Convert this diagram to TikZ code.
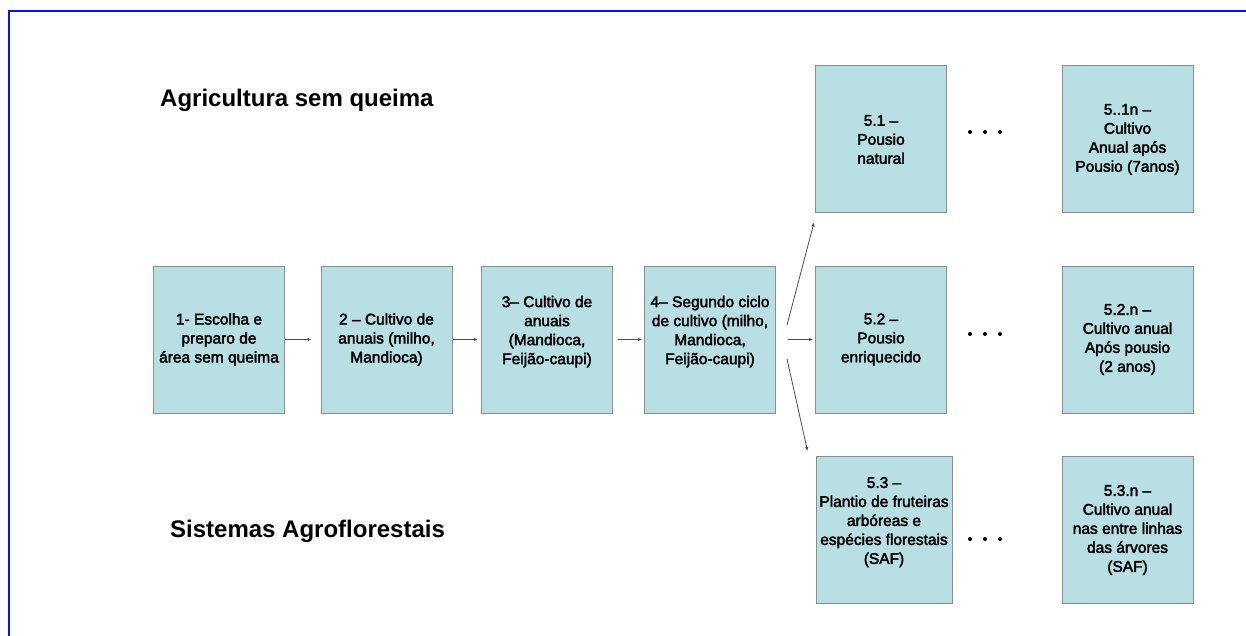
\documentclass[tikz,border=0pt]{standalone}
\usepackage{fontspec}
\setmainfont{Liberation Sans}
\newfontfamily\boxfont[FakeBold=2.5]{Liberation Sans}
\usetikzlibrary{arrows.meta}
\definecolor{boxfill}{HTML}{B8DFE4}
\definecolor{boxline}{HTML}{8C8C8C}
\definecolor{frameblue}{HTML}{1010F0}
\tikzset{
  box/.style={draw=boxline, line width=1pt, fill=boxfill, minimum width=131pt, minimum height=147pt,
    inner sep=0pt, align=center, font=\boxfont\fontsize{15.5}{19}\selectfont},
  heading/.style={anchor=west, inner sep=0pt, font=\fontsize{24}{28}\selectfont\bfseries},
  link/.style={draw=black!70, line width=0.8pt, -{Latex[length=4pt,width=3.5pt]}}
}
\begin{document}
\begin{tikzpicture}[x=1pt,y=-1pt]
		\useasboundingbox (0,0) rectangle (1246,636);
		\draw [frameblue, line width=2pt] (1246,11) -- (9,11) -- (9,636);
		
		\node [heading] (tsq) at (160,100) {Agricultura sem queima};
		\node [heading] (tsaf) at (170,531) {Sistemas Agroflorestais};
		
		% main row
		\node [box] (b1) at (219,339.5) {1- Escolha e\\preparo de\\área sem queima};
		\node [box] (b2) at (386.5,339.5) {2 – Cultivo de\\anuais (milho,\\Mandioca)};
		\node [box] (b3) at (547,339.5) {3– Cultivo de\\anuais\\(Mandioca,\\Feijão-caupi)\\~};
		\node [box] (b4) at (710,339.5) {4– Segundo ciclo\\de cultivo (milho,\\Mandioca,\\Feijão-caupi)\\~};
		
		% branches
		\node [box] (b51) at (881,139.5) {5.1 –\\Pousio\\natural};
		\node [box] (b52) at (881,339.5) {5.2 –\\Pousio\\enriquecido};
		\node [box, minimum width=136pt] (b53) at (884,530) {5.3 –\\Plantio de fruteiras\\arbóreas e\\espécies florestais\\(SAF)\\~};
		\node [box] (b51n) at (1127.5,139.5) {5..1n –\\Cultivo\\Anual após\\Pousio (7anos)};
		\node [box] (b52n) at (1127.5,339.5) {5.2.n –\\Cultivo anual\\Após pousio\\(2 anos)};
		\node [box] (b53n) at (1127.5,530) {5.3.n –\\Cultivo anual\\nas entre linhas\\das árvores\\(SAF)};
		
		\foreach \y in {132,334,539} \foreach \x in {970,985,1000}
			\fill (\x,\y) circle (2);
		
		\draw [link] (b1.east) -- ([xshift=-9pt]b2.west);
		\draw [link] (b2.east) -- ([xshift=-3pt]b3.west);
		\draw [link] ([xshift=5pt]b3.east) -- ([xshift=-2pt]b4.west);
		\draw [link] ([shift={(11,-14.5)}]b4.east) -- ([shift={(-1,9)}]b51.south west);
		\draw [link] ([xshift=12pt]b4.east) -- ([xshift=-2pt]b52.west);
		\draw [link] ([shift={(11,19.5)}]b4.east) -- ([shift={(-8,-5)}]b53.north west);
		\end{tikzpicture}
\end{document}
